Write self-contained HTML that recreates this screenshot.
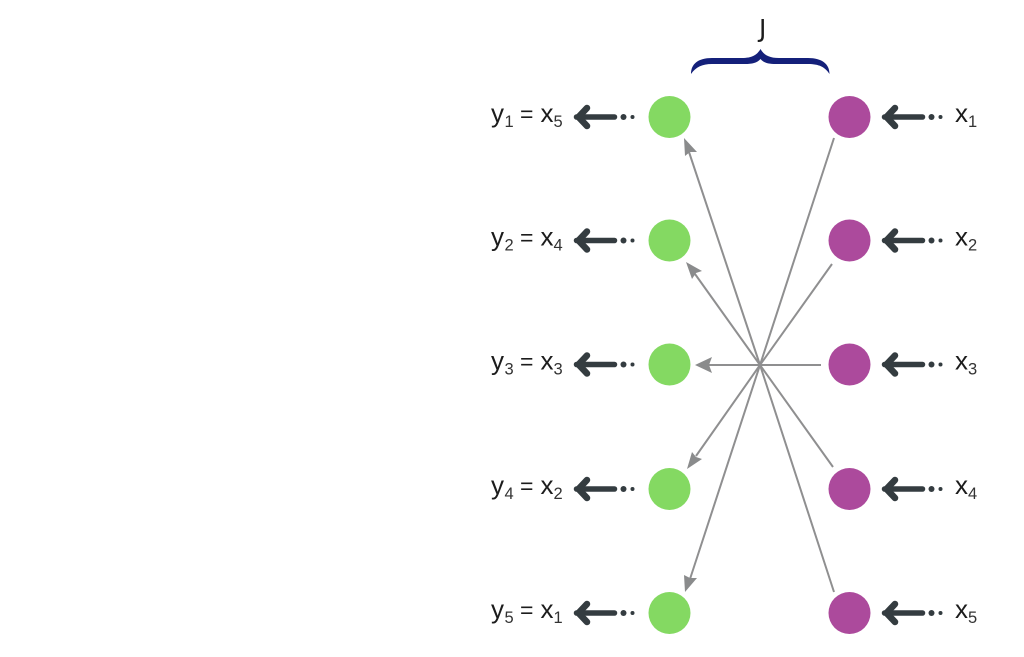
<!DOCTYPE html>
<html>
<head>
<meta charset="utf-8">
<style>
html,body{margin:0;padding:0;background:#fff;width:1024px;height:657px;overflow:hidden}
svg{display:block}
text{font-family:"Liberation Sans",sans-serif;font-size:26px;fill:#1c1c1c}
.s{font-size:16.5px;fill:#333}
.e{font-size:23px}
</style>
</head>
<body>
<svg width="1024" height="657" viewBox="0 0 1024 657" xmlns="http://www.w3.org/2000/svg">
<defs>
<g id="da">
<path d="M0 0H38" stroke="#343c40" stroke-width="5.5" stroke-linecap="round" fill="none"/>
<path d="M10.5 -9L2 0L10.5 9" stroke="#343c40" stroke-width="6.5" stroke-linecap="round" stroke-linejoin="round" fill="none"/>
<circle cx="47" cy="0" r="3" fill="#343c40"/>
<circle cx="56" cy="0" r="2" fill="#343c40"/>
</g>
</defs>
<!-- connectors -->
<g stroke="#8f8f90" stroke-width="2" fill="none">
<path d="M834 138L760 365L689 152"/>
<path d="M832 264L760 365L695 274"/>
<path d="M821 365H708"/>
<path d="M833 467L760 365L696 456"/>
<path d="M834 592L760 365L690 579"/>
</g>
<g fill="#8a8b8c">
<polygon points="684,138 697,152 690,152 685,156"/>
<polygon points="686,262 702,271 696,273 692,279"/>
<polygon points="695,365 712,357 709,365 712,373"/>
<polygon points="687,469 692,452 696,457 702,459"/>
<polygon points="685,592 684,575 690,578 697,578"/>
</g>
<!-- nodes -->
<g fill="#84d962">
<circle cx="669.5" cy="117" r="21"/>
<circle cx="669.5" cy="240.5" r="21"/>
<circle cx="669.5" cy="364.5" r="21"/>
<circle cx="669.5" cy="489" r="21"/>
<circle cx="669.5" cy="613" r="21"/>
</g>
<g fill="#ac4a9c">
<circle cx="849.5" cy="117" r="21"/>
<circle cx="849.5" cy="240.5" r="21"/>
<circle cx="849.5" cy="364.5" r="21"/>
<circle cx="849.5" cy="489" r="21"/>
<circle cx="849.5" cy="613" r="21"/>
</g>
<!-- thick arrows -->
<use href="#da" x="576.5" y="117"/>
<use href="#da" x="884.5" y="117"/>
<use href="#da" x="576.5" y="240.5"/>
<use href="#da" x="884.5" y="240.5"/>
<use href="#da" x="576.5" y="364.5"/>
<use href="#da" x="884.5" y="364.5"/>
<use href="#da" x="576.5" y="489"/>
<use href="#da" x="884.5" y="489"/>
<use href="#da" x="576.5" y="613"/>
<use href="#da" x="884.5" y="613"/>
<!-- brace -->
<path d="M691 74C691 64 698 58 712 58H742C752 58 757 55 760.5 49C764 55 769 58 779 58H808C822 58 829.5 64 829.5 74C825 67 819 64 808 64H776C769 64 764 63 760.5 59C757 63 752 64 745 64H712C702 64 696 67 691 74Z" fill="#14207a"/>
<text x="759" y="37" style="font-family:'DejaVu Sans',sans-serif;font-size:25px">J</text>
<!-- left labels -->
<text y="122"><tspan x="491">y</tspan><tspan class="s" x="504.5" dy="5">1</tspan><tspan class="e" x="520" dy="-5">=</tspan><tspan x="540.5">x</tspan><tspan class="s" x="553.5" dy="5">5</tspan></text>
<text y="245.5"><tspan x="491">y</tspan><tspan class="s" x="504.5" dy="5">2</tspan><tspan class="e" x="520" dy="-5">=</tspan><tspan x="540.5">x</tspan><tspan class="s" x="553.5" dy="5">4</tspan></text>
<text y="369.5"><tspan x="491">y</tspan><tspan class="s" x="504.5" dy="5">3</tspan><tspan class="e" x="520" dy="-5">=</tspan><tspan x="540.5">x</tspan><tspan class="s" x="553.5" dy="5">3</tspan></text>
<text y="494"><tspan x="491">y</tspan><tspan class="s" x="504.5" dy="5">4</tspan><tspan class="e" x="520" dy="-5">=</tspan><tspan x="540.5">x</tspan><tspan class="s" x="553.5" dy="5">2</tspan></text>
<text y="618"><tspan x="491">y</tspan><tspan class="s" x="504.5" dy="5">5</tspan><tspan class="e" x="520" dy="-5">=</tspan><tspan x="540.5">x</tspan><tspan class="s" x="553.5" dy="5">1</tspan></text>
<!-- right labels -->
<text y="122"><tspan x="955">x</tspan><tspan class="s" x="968" dy="5">1</tspan></text>
<text y="245.5"><tspan x="955">x</tspan><tspan class="s" x="968" dy="5">2</tspan></text>
<text y="369.5"><tspan x="955">x</tspan><tspan class="s" x="968" dy="5">3</tspan></text>
<text y="494"><tspan x="955">x</tspan><tspan class="s" x="968" dy="5">4</tspan></text>
<text y="618"><tspan x="955">x</tspan><tspan class="s" x="968" dy="5">5</tspan></text>
</svg>
</body>
</html>
